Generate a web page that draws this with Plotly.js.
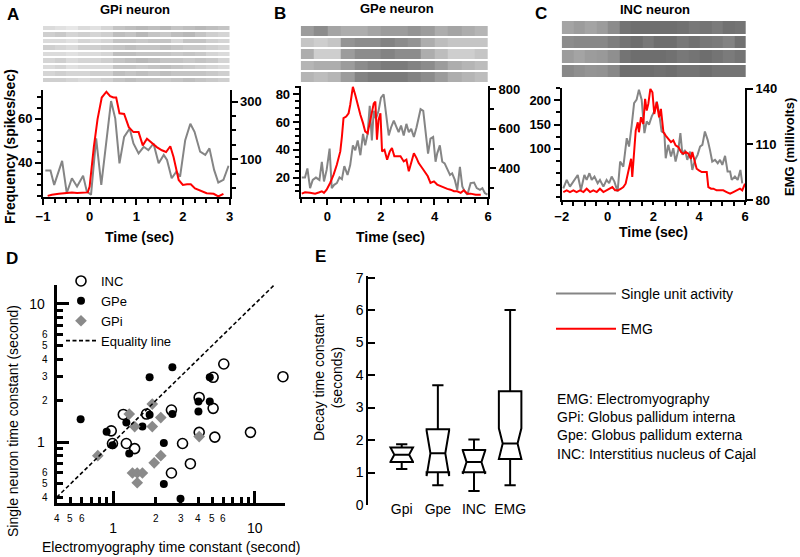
<!DOCTYPE html>
<html>
<head>
<meta charset="utf-8">
<script src="https://cdn.plot.ly/plotly-3.0.1.min.js"></script>
<style>
  html, body { margin: 0; padding: 0; background: #fff; }
  #chart { width: 800px; height: 557px; }
</style>
</head>
<body>
<div id="chart"></div>
<script>
// Panel A - GPi neuron
const gpiUnitT = [-0.95,-0.84,-0.76,-0.59,-0.49,-0.38,-0.27,-0.14,-0.06,0.03,0.14,0.25,0.46,0.55,0.64,0.74,0.86,0.94,1.05,1.16,1.26,1.37,1.48,1.59,1.66,1.76,1.86,1.94,2.05,2.16,2.25,2.37,2.48,2.57,2.67,2.76,2.87,2.98];
const gpiUnitHz = [36.4,36.4,29.9,40.8,26.2,32.9,29.2,34.1,26.9,25.4,51.0,29.9,68.0,60.0,39.7,51.7,55.5,48.7,44.2,47.2,45.7,48.7,39.7,43.5,41.2,32.9,35.9,33.7,50.2,57.7,54.0,45.0,43.5,46.5,36.7,31.0,32.2,38.6];
const gpiEmgT = [-0.9,-0.81,-0.66,-0.49,-0.38,-0.27,-0.13,-0.04,0.0,0.09,0.17,0.26,0.36,0.44,0.51,0.57,0.64,0.74,0.84,0.94,1.05,1.14,1.23,1.34,1.44,1.55,1.64,1.73,1.8,1.91,2.0,2.09,2.17,2.26,2.37,2.51,2.66,2.76,2.87];
const gpiEmg = [-27,-23,-20,-18,-15,-17,-15,-15,5,142,239,314,334,319,314,314,259,257,211,194,194,148,171,154,142,131,125,145,108,28,11,13,13,-1,-9,-18,-20,-29,-20];

// Panel B - GPe neuron
const gpeUnitT = [-0.96,-0.84,-0.75,-0.65,-0.55,-0.43,-0.3,-0.21,-0.13,-0.03,0.08,0.16,0.25,0.35,0.45,0.54,0.63,0.75,0.85,0.95,1.04,1.13,1.23,1.33,1.41,1.5,1.58,1.66,1.73,1.81,1.91,2.0,2.1,2.19,2.29,2.38,2.48,2.58,2.66,2.75,2.85,2.95,3.04,3.13,3.23,3.33,3.41,3.48,3.58,3.66,3.76,3.85,3.95,4.04,4.1,4.2,4.29,4.38,4.48,4.58,4.66,4.76,4.85,4.95,5.04,5.13,5.23,5.35,5.48,5.58,5.7,5.79,5.88,5.98];
const gpeUnitHz = [20,20,26.6,12.4,18.3,20,18.3,31.4,17.2,25.5,40.9,12.4,14.8,16,20.2,18.8,28.3,21.9,29,43.2,39.7,46.8,36.1,51.5,43.2,51.5,71.7,46.8,68.1,62.2,68.1,77.6,80,65.8,50.4,56.3,61,56.3,52.7,57.5,50.4,58.7,52.7,55.1,49.2,56.3,64.6,69.3,68.1,53.9,37.3,48,49.2,31.4,37.3,43.2,31.4,30.2,25.5,21.9,23.1,18.3,11.2,27.8,13.6,10,7.7,16,16.4,12.4,11.2,12.4,8.9,7.7];
const gpeEmgT = [-0.96,-0.84,-0.65,-0.46,-0.3,-0.21,-0.13,-0.03,0.1,0.23,0.35,0.48,0.54,0.6,0.7,0.79,0.85,0.95,1.04,1.13,1.23,1.33,1.41,1.5,1.58,1.66,1.73,1.79,1.85,1.91,1.98,2.04,2.13,2.23,2.33,2.41,2.5,2.6,2.73,2.85,2.95,3.04,3.13,3.23,3.33,3.41,3.54,3.66,3.75,3.85,3.98,4.1,4.23,4.35,4.48,4.6,4.73,4.85,4.98,5.1,5.23,5.35,5.54,5.73];
const gpeEmg = [272,279,276,272,279,284,276,292,326,368,418,486,561,654,662,679,721,813,771,721,671,629,587,578,637,696,729,738,545,645,679,486,494,444,486,503,461,461,461,435,444,385,435,477,452,427,402,376,360,326,334,318,309,301,296,292,284,284,276,289,272,272,267,267];

// Panel C - INC neuron
const incUnitT = [-1.93,-1.78,-1.64,-1.49,-1.3,-1.16,-1.01,-0.91,-0.79,-0.69,-0.57,-0.43,-0.33,-0.18,-0.04,0.07,0.18,0.3,0.44,0.55,0.69,0.84,0.94,1.05,1.16,1.27,1.37,1.49,1.61,1.71,1.81,1.93,2.04,2.15,2.25,2.36,2.48,2.54,2.65,2.77,2.87,2.97,3.09,3.18,3.27,3.38,3.48,3.6,3.7,3.82,3.93,4.04,4.14,4.25,4.37,4.47,4.57,4.69,4.81,4.91,5.01,5.13,5.24,5.35,5.42,5.56,5.68,5.8,5.88];
const incUnitHz = [18.6,35.9,22.1,32.4,46.2,15.2,46.2,35.9,49.7,35.9,42.8,29,35.9,22.1,35.9,29,42.8,32.4,11.7,73.8,63.4,122,104.8,146.2,194.5,201.4,222.1,201.4,132.4,156.6,149.7,166.9,177.2,197.9,173.8,135.9,132.4,80.7,108.3,84.1,101.4,73.8,97.9,132.4,87.6,97.9,77.2,94.5,56.6,77.2,87.6,104.8,108.3,135.9,118.6,97.9,73.8,77.2,70.3,77.2,66.9,85.5,53.1,53.1,35.9,42.8,35.9,56.6,29];
const incEmgT = [-1.93,-1.78,-1.64,-1.49,-1.35,-1.2,-1.05,-0.91,-0.76,-0.62,-0.47,-0.33,-0.18,-0.04,0.11,0.21,0.33,0.47,0.59,0.69,0.79,0.91,1.03,1.08,1.17,1.23,1.32,1.37,1.46,1.56,1.64,1.71,1.78,1.87,1.96,2.04,2.15,2.25,2.33,2.44,2.54,2.65,2.77,2.87,2.97,3.09,3.21,3.31,3.41,3.53,3.64,3.7,3.79,3.89,3.99,4.11,4.23,4.33,4.4,4.52,4.62,4.76,4.91,5.05,5.2,5.35,5.49,5.64,5.78,5.88,6.0];
const incEmg = [84.3,85.2,84.3,85.2,84.3,85.2,84.3,86.1,84.3,85.2,84.3,86.1,84.3,85.2,86.1,87,85.2,85.2,86.1,87,88.8,96,102.3,92.4,108.6,117.5,122,116.6,124.7,121.1,134.6,128.3,131.9,140,138.2,126.5,132.8,124.7,129.2,116.6,114.8,113.1,111.3,112.2,109.5,108.6,105.9,105,105.9,105,102.3,105.9,101.4,96.9,96,95.1,95.1,95.1,87,86.1,86.1,85.2,85.2,85.2,84.3,83.4,84.3,85.2,86.1,85.2,88.8];

// Spike rasters: darkness of each trial row in time bins
const rasterAT = [-0.875,-0.625,-0.375,-0.125,0.125,0.375,0.625,0.875,1.125,1.375,1.625,1.875,2.125,2.375,2.625,2.875];
const rasterATrials = [1,2,3,4,5,6,7,8,9];
const rasterA = [
  [0.3,0.25,0.2,0.3,0.25,0.35,0.5,0.55,0.6,0.55,0.6,0.5,0.55,0.6,0.55,0.5],
  [0.4,0.45,0.35,0.4,0.35,0.4,0.55,0.5,0.6,0.5,0.45,0.55,0.6,0.5,0.4,0.35],
  [0.3,0.3,0.25,0.35,0.3,0.35,0.5,0.5,0.45,0.5,0.5,0.35,0.5,0.5,0.4,0.35],
  [0.4,0.35,0.3,0.4,0.4,0.45,0.5,0.55,0.5,0.5,0.55,0.5,0.45,0.45,0.4,0.35],
  [0.3,0.3,0.25,0.3,0.3,0.35,0.55,0.55,0.5,0.5,0.5,0.45,0.5,0.45,0.35,0.3],
  [0.35,0.4,0.3,0.35,0.35,0.4,0.5,0.55,0.6,0.55,0.5,0.5,0.45,0.5,0.45,0.35],
  [0.3,0.35,0.25,0.3,0.3,0.3,0.5,0.5,0.45,0.5,0.55,0.5,0.45,0.4,0.35,0.3],
  [0.35,0.4,0.35,0.35,0.4,0.4,0.55,0.5,0.55,0.5,0.55,0.5,0.5,0.5,0.45,0.4],
  [0.4,0.4,0.35,0.3,0.35,0.4,0.5,0.55,0.5,0.5,0.45,0.5,0.55,0.5,0.45,0.4]
];
const rasterBT = [-0.75,-0.25,0.25,0.75,1.25,1.75,2.25,2.75,3.25,3.75,4.25,4.75,5.25,5.75];
const rasterBTrials = [1,2,3,4,5];
const rasterB = [
  [0.6,0.7,0.55,0.5,0.5,0.55,0.6,0.6,0.65,0.6,0.5,0.55,0.5,0.45],
  [0.35,0.3,0.35,0.65,0.7,0.7,0.75,0.7,0.65,0.5,0.4,0.35,0.35,0.35],
  [0.5,0.3,0.3,0.6,0.7,0.7,0.75,0.7,0.7,0.5,0.4,0.3,0.3,0.35],
  [0.45,0.5,0.5,0.6,0.7,0.75,0.8,0.8,0.75,0.7,0.6,0.5,0.45,0.4],
  [0.45,0.4,0.45,0.6,0.75,0.8,0.8,0.8,0.75,0.7,0.6,0.5,0.45,0.4]
];
const rasterCT = [-1.75,-1.25,-0.75,-0.25,0.25,0.75,1.25,1.75,2.25,2.75,3.25,3.75,4.25,4.75,5.25,5.75];
const rasterCTrials = [1,2,3,4];
const rasterC = [
  [0.55,0.6,0.55,0.6,0.7,0.85,0.88,0.88,0.88,0.88,0.86,0.82,0.84,0.8,0.86,0.84],
  [0.7,0.72,0.72,0.72,0.78,0.84,0.88,0.82,0.88,0.88,0.82,0.86,0.82,0.8,0.75,0.86],
  [0.6,0.55,0.6,0.62,0.68,0.84,0.88,0.88,0.88,0.86,0.82,0.84,0.88,0.84,0.8,0.84],
  [0.72,0.68,0.65,0.66,0.72,0.88,0.88,0.88,0.86,0.88,0.84,0.84,0.88,0.84,0.84,0.84]
];

// Panel D - time constants (EMG vs single neuron)
const incX = [0.97,0.99,1.18,1.24,1.42,1.72,2.58,2.58,3.09,3.51,4.05,4.05,5.08,5.08,5.22,6.04,9.32,15.8];
const incY = [1.21,0.98,1.59,0.98,0.90,1.60,1.71,0.60,0.98,0.70,2.11,1.18,2.95,1.76,1.09,3.68,1.18,2.98];
const gpeX = [0.59,0.90,0.99,1.24,1.30,1.61,1.81,1.81,2.28,2.28,2.62,2.62,2.99,4.0,4.0,4.81,4.81];
const gpeY = [1.47,1.19,0.95,1.39,0.83,1.30,2.95,1.58,0.99,0.50,3.48,1.60,0.39,1.97,1.67,2.95,1.97];
const gpiX = [0.78,1.30,1.42,1.37,1.48,1.61,1.48,1.89,1.89,1.95,2.17,2.17,4.05];
const gpiY = [0.80,1.60,1.30,0.60,0.60,0.60,0.51,1.30,1.89,0.71,1.51,0.80,1.10];
const equalityX = [0.4, 14];
const equalityY = [0.4, 14];
const dMajorTicks = [1, 10];
const dMinorTicks = [0.4,0.5,0.6,0.7,0.8,0.9,2,3,4,5,6,7,8,9];
const dSmallLabels = [0.4,0.5,0.6,2,3,4,5,6];
const dSmallText = ['4','5','6','2','3','4','5','6'];

// Panel E - decay time constants
const boxNames = ['Gpi', 'Gpe', 'INC', 'EMG'];
const boxLow = [1.11, 0.61, 0.43, 0.61];
const boxQ1 = [1.32, 1.01, 1.01, 1.42];
const boxMedian = [1.55, 1.59, 1.32, 1.89];
const boxQ3 = [1.77, 2.33, 1.69, 3.5];
const boxHigh = [1.87, 3.69, 2.02, 6.0];
const boxNotch = [0.22, 0.7, 0.36, 0.47];

const legendNames = ['Single unit activity', 'EMG'];
const glossary = ['EMG: Electromyography', 'GPi: Globus pallidum interna',
  'Gpe: Globus pallidum externa', 'INC: Interstitius nucleus of Cajal'];

// pixel -> paper helpers (800 x 557 canvas)
const W = 800, H = 557;
const px = v => v / W;
const py = v => 1 - v / H;

const FONT = 'Liberation Sans, Arial, sans-serif';
const GRAY = '#858585';
const RED = '#ff0000';

function lineTrace(x, y, xa, ya, color, name, show) {
  return {
    type: 'scatter', mode: 'lines', x: x, y: y, xaxis: xa, yaxis: ya,
    line: { color: color, width: 2 }, name: name,
    showlegend: show, legend: 'legend2', legendgroup: name, hoverinfo: 'skip'
  };
}

function rasterTrace(t, trials, z, xa, ya, dark) {
  return {
    type: 'heatmap', x: t, y: trials, z: z, xaxis: xa, yaxis: ya,
    zmin: 0, zmax: 1, showscale: false, ygap: 2, hoverinfo: 'skip',
    colorscale: [[0, '#ffffff'], [1, dark]]
  };
}

const traces = [
  lineTrace(gpiUnitT, gpiUnitHz, 'x', 'y', GRAY, legendNames[0], true),
  lineTrace(gpiEmgT, gpiEmg, 'x', 'y2', RED, legendNames[1], true),
  lineTrace(gpeUnitT, gpeUnitHz, 'x2', 'y3', GRAY, legendNames[0], false),
  lineTrace(gpeEmgT, gpeEmg, 'x2', 'y4', RED, legendNames[1], false),
  lineTrace(incUnitT, incUnitHz, 'x3', 'y5', GRAY, legendNames[0], false),
  lineTrace(incEmgT, incEmg, 'x3', 'y6', RED, legendNames[1], false),
  rasterTrace(rasterAT, rasterATrials, rasterA, 'x4', 'y7', '#888888'),
  rasterTrace(rasterBT, rasterBTrials, rasterB, 'x5', 'y8', '#5a5a5a'),
  rasterTrace(rasterCT, rasterCTrials, rasterC, 'x6', 'y9', '#5a5a5a'),
  {
    type: 'scatter', mode: 'markers', x: incX, y: incY, xaxis: 'x7', yaxis: 'y10',
    name: 'INC', cliponaxis: false, hoverinfo: 'skip',
    marker: { symbol: 'circle-open', size: 10, color: '#000', line: { width: 1.6 } }
  },
  {
    type: 'scatter', mode: 'markers', x: gpeX, y: gpeY, xaxis: 'x7', yaxis: 'y10',
    name: 'GPe', cliponaxis: false, hoverinfo: 'skip',
    marker: { symbol: 'circle', size: 8, color: '#000' }
  },
  {
    type: 'scatter', mode: 'markers', x: gpiX, y: gpiY, xaxis: 'x7', yaxis: 'y10',
    name: 'GPi', cliponaxis: false, hoverinfo: 'skip',
    marker: { symbol: 'diamond', size: 9, color: '#8a8a8a' }
  },
  {
    type: 'scatter', mode: 'lines', x: equalityX, y: equalityY, xaxis: 'x7', yaxis: 'y10',
    name: 'Equality line', hoverinfo: 'skip',
    line: { color: '#000', width: 1.6, dash: '4px,2.5px' }
  },
  {
    type: 'box', x: boxNames, q1: boxQ1, median: boxMedian, q3: boxQ3,
    lowerfence: boxLow, upperfence: boxHigh, notched: true, notchspan: boxNotch,
    notchwidth: 0.17, whiskerwidth: 0.5, boxpoints: false,
    xaxis: 'x8', yaxis: 'y11', showlegend: false, hoverinfo: 'skip',
    line: { color: '#000', width: 2 }, fillcolor: 'rgba(0,0,0,0)'
  }
];

const boldTick = { family: FONT, size: 13, color: '#000', weight: 700 };

function timeAxis(domain, range, dtick, minor, anchor, len) {
  return {
    domain: domain, range: range, anchor: anchor, tick0: 0, dtick: dtick,
    showline: true, linewidth: 2, linecolor: '#000', ticks: 'outside',
    ticklen: len, tickwidth: 2, tickcolor: '#000', showgrid: false, zeroline: false,
    tickfont: boldTick,
    minor: { tickmode: 'linear', tick0: 0, dtick: minor, ticks: 'outside', ticklen: 4, tickwidth: 1.5, tickcolor: '#000', showgrid: false }
  };
}

function valueAxis(domain, range, ticks, minor, anchor, side, overlay) {
  const ax = {
    domain: domain, range: range, anchor: anchor, side: side,
    tickmode: 'array', tickvals: ticks,
    showline: true, linewidth: 2, linecolor: '#000', ticks: 'outside',
    ticklen: 6, tickwidth: 2, tickcolor: '#000', showgrid: false, zeroline: false,
    tickfont: boldTick
  };
  if (minor) {
    ax.minor = { tickmode: 'linear', tick0: 0, dtick: minor, ticks: 'outside', ticklen: 4, tickwidth: 1.5, tickcolor: '#000', showgrid: false };
  }
  if (overlay) ax.overlaying = overlay;
  return ax;
}

function hidden(domain, range, anchor) {
  return { domain: domain, range: range, anchor: anchor, visible: false, fixedrange: true };
}

const logAxis = (domain, range, anchor) => ({
  type: 'log', domain: domain, range: range, anchor: anchor,
  showline: true, linewidth: 3, linecolor: '#000', showgrid: false, zeroline: false,
  tickmode: 'array', tickvals: dMajorTicks, ticktext: ['1', '10'],
  ticks: 'inside', ticklen: 12, tickwidth: 2.5, tickcolor: '#000',
  tickfont: { family: FONT, size: 14, color: '#000' },
  minor: { tickmode: 'array', tickvals: dMinorTicks, ticks: 'inside', ticklen: 6, tickwidth: 2.5, tickcolor: '#000', showgrid: false }
});

function note(x, y, text, size, extra) {
  return Object.assign({
    xref: 'paper', yref: 'paper', x: px(x), y: py(y), text: text,
    showarrow: false, xanchor: 'center', yanchor: 'middle',
    font: { family: FONT, size: size, color: '#000' }
  }, extra || {});
}
const bold = (size) => ({ family: FONT, size: size, color: '#000', weight: 700 });

const annotations = [
  note(13, 14, 'A', 17, { font: bold(17) }),
  note(280, 13, 'B', 17, { font: bold(17) }),
  note(541, 13, 'C', 17, { font: bold(17) }),
  note(12, 258, 'D', 17, { font: bold(17) }),
  note(320, 256, 'E', 17, { font: bold(17) }),
  note(135, 10, 'GPi neuron', 13, { font: bold(13) }),
  note(397, 9, 'GPe neuron', 13, { font: bold(13) }),
  note(655, 10, 'INC neuron', 13, { font: bold(13) }),
  note(139, 237, 'Time (sec)', 14, { font: bold(14) }),
  note(390, 237, 'Time (sec)', 14, { font: bold(14) }),
  note(653, 232, 'Time (sec)', 14, { font: bold(14) }),
  note(10, 147, 'Frequency (spikes/sec)', 14, { font: bold(14), textangle: -90 }),
  note(790, 147, 'EMG (millivolts)', 13, { font: bold(13), textangle: -90 }),
  note(13, 421, 'Single neuron time constant (second)', 14, { textangle: -90 }),
  note(171, 547, 'Electromyography time constant (second)', 14),
  note(328, 378, 'Decay time constant<br>(seconds)', 14, { textangle: -90 }),
  note(555, 389, glossary.join('<br>'), 14, { xanchor: 'left', yanchor: 'top', align: 'left' })
];

// small tick labels of the log axes in panel D
dSmallLabels.forEach((v, i) => {
  annotations.push({
    xref: 'x7', yref: 'paper', x: Math.log10(v), y: py(518), text: dSmallText[i],
    showarrow: false, xanchor: 'center', yanchor: 'middle',
    font: { family: FONT, size: 10, color: '#000' }
  });
  annotations.push({
    xref: 'paper', yref: 'y10', x: px(50), y: Math.log10(v), text: dSmallText[i],
    showarrow: false, xanchor: 'right', yanchor: 'middle',
    font: { family: FONT, size: 10, color: '#000' }
  });
});

const layout = {
  width: W, height: H,
  margin: { l: 0, r: 0, t: 0, b: 0 },
  paper_bgcolor: '#fff', plot_bgcolor: 'rgba(0,0,0,0)',
  font: { family: FONT, color: '#000' },
  boxgap: 0.11,
  // panel A
  xaxis: timeAxis([px(43), px(229.5)], [-1, 3], 1, 0.25, 'y', 6),
  yaxis: valueAxis([py(197), py(90)], [24.4, 73], [40, 60], 5, 'x', 'left'),
  yaxis2: valueAxis([py(197), py(90)], [-31, 340], [100, 300], 50, 'x', 'right', 'y'),
  // panel B
  xaxis2: timeAxis([px(300.7), px(488)], [-1, 6], 2, 0.5, 'y3', 6),
  yaxis3: valueAxis([py(197), py(86)], [6, 86], [20, 40, 60, 80], 5, 'x2', 'left'),
  yaxis4: valueAxis([py(197), py(86)], [255, 817], [400, 600, 800], 100, 'x2', 'right', 'y3'),
  // panel C
  xaxis3: timeAxis([px(561.7), px(745)], [-2, 6], 2, 0.5, 'y5', 3),
  yaxis5: valueAxis([py(200), py(88)], [-5.5, 225.5], [100, 150, 200], 25, 'x3', 'left'),
  yaxis6: valueAxis([py(200), py(88)], [80, 140.5], [80, 110, 140], null, 'x3', 'right', 'y5'),
  // rasters
  xaxis4: hidden([px(43), px(229.5)], [-1, 3], 'y7'),
  yaxis7: hidden([py(83), py(25)], [9.5, 0.5], 'x4'),
  xaxis5: hidden([px(300.7), px(488)], [-1, 6], 'y8'),
  yaxis8: hidden([py(83), py(25)], [5.5, 0.5], 'x5'),
  xaxis6: hidden([px(561.7), px(746)], [-2, 6], 'y9'),
  yaxis9: hidden([py(78), py(20)], [4.5, 0.5], 'x6'),
  // panel D
  xaxis7: Object.assign(logAxis([px(56.7), px(285)], [-0.398, 1.213], 'y10'), { ticklabelstandoff: 10 }),
  yaxis10: Object.assign(logAxis([py(503.3), py(285)], [-0.441, 1.137], 'x7'), { ticklabelstandoff: 6 }),
  // panel E
  xaxis8: {
    domain: [px(368.3), px(530)], range: [-0.925, 3.55], anchor: 'free', position: py(499),
    type: 'category', showline: false, ticks: '', showgrid: false, zeroline: false,
    tickfont: { family: FONT, size: 14, color: '#000' }
  },
  yaxis11: {
    domain: [py(505), py(276)], range: [0, 7.05], anchor: 'x8', dtick: 1,
    showline: true, linewidth: 2, linecolor: '#000', ticks: 'inside', ticklen: 7,
    tickwidth: 2, tickcolor: '#000', showgrid: false, zeroline: false,
    tickfont: { family: FONT, size: 14, color: '#000' }
  },
  legend: {
    x: px(61), y: py(266), xanchor: 'left', yanchor: 'top',
    bgcolor: 'rgba(0,0,0,0)', font: { family: FONT, size: 13, color: '#000' },
    tracegroupgap: 0
  },
  legend2: {
    x: px(551), y: py(278), xanchor: 'left', yanchor: 'top',
    bgcolor: 'rgba(0,0,0,0)', font: { family: FONT, size: 14, color: '#000' },
    itemwidth: 60, traceorder: 'grouped', tracegroupgap: 14
  },
  annotations: annotations
};

Plotly.newPlot('chart', traces, layout, { displayModeBar: false, responsive: false });
</script>
</body>
</html>
